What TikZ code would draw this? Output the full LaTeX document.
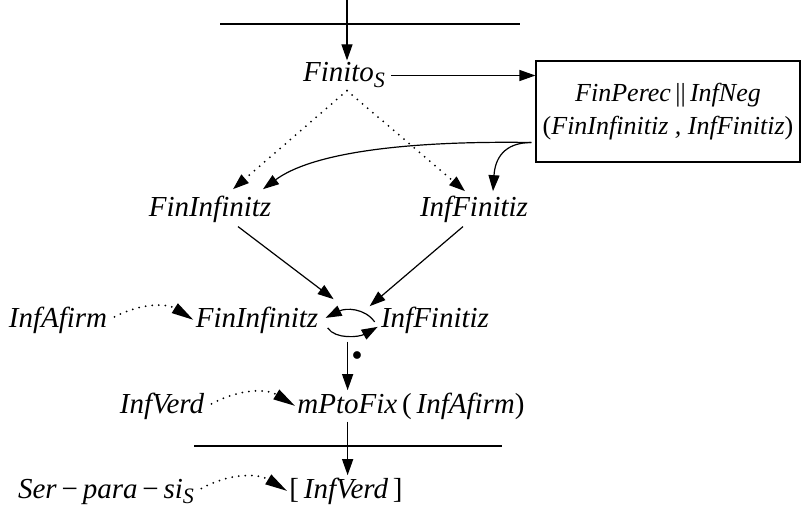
\documentclass[tikz,border=0pt]{standalone}
\usepackage{fontspec}
\setmainfont{Liberation Serif}
\usetikzlibrary{arrows.meta,calc,positioning}
\newcommand{\lowsub}[1]{\raisebox{-0.45ex}{\fontsize{11}{11}\selectfont #1}}
\tikzset{
  term/.style    = {font=\fontsize{14.5}{17}\selectfont\itshape, inner sep=1pt},
  rulebox/.style = {draw, line width=0.6pt, align=center,
                    font=\fontsize{13}{16.5}\selectfont\itshape,
                    minimum width=131pt, minimum height=50.5pt},
  infer/.style   = {line width=0.6pt, -{Triangle[length=8pt,width=5.5pt]}},
  hint/.style    = {line width=1pt, line cap=round, dash pattern=on 0pt off 3.3pt,
                    -{Triangle[length=11pt,width=5.5pt]}},
  dothint/.style = {line width=1pt, line cap=round, dash pattern=on 0pt off 3.4pt,
                    -{Triangle[length=8pt,width=5.5pt]}},
  rulebar/.style = {line width=0.6pt}
}
\begin{document}
\begin{tikzpicture}[x=0.5pt, y=-0.5pt]
  \useasboundingbox (0,0) rectangle (801,508);
  \node[term, anchor=base] (finito) at (344,82) {Finito\lowsub{S}};
  \node[rulebox] (box) at (668,111.5)
    {FinPerec{\upshape\,||\,}InfNeg\\{\upshape(}FinInfinitiz , InfFinitiz{\upshape)}};
  \node[term, anchor=base] (fin1)  at (210,216) {FinInfinitz};
  \node[term, anchor=base] (inf1)  at (474,216) {InfFinitiz};
  \node[term, anchor=base] (afirm) at (58,327)  {InfAfirm};
  \node[term, anchor=base] (fin2)  at (257,327) {FinInfinitz};
  \node[term, anchor=base] (inf2)  at (435,327) {InfFinitiz};
  \node[term, anchor=base] (verd)  at (162,413) {InfVerd};
  \node[term, anchor=base] (fix)   at (411,413) {mPtoFix\,{\upshape(}\,InfAfirm{\upshape)}};
  \node[term, anchor=base] (ser)   at (106,498) {Ser\,{\upshape−}\,para\,{\upshape−}\,si\lowsub{S}};
  \node[term, anchor=base] (goal)  at (346,498) {{\upshape[}\,InfVerd\,{\upshape]}};

  \coordinate (top) at (347,0);
  \draw[rulebar] (220,24) -- (520,24);
  \draw[infer] (top) -- (top |- finito.north);
  \draw[infer] ($(finito.east)+(4,0)$) -- (finito.east -| box.west);
  \draw[dothint] ($(finito.south)+(3,0)$) -- ($(fin1.north)+(23,-4)$);
  \draw[dothint] ($(finito.south)+(3,0)$) -- ($(inf1.north)+(-9,-2)$);
  \draw[infer] ($(box.west)+(-4,31)$) .. controls +(-133,-2) and +(47,-35) .. ($(fin1.north)+(53,-4)$);
  \draw[infer] ($(box.west)+(-4,31)$) .. controls +(-28,0) and +(2,-32) .. ($(inf1.north)+(19,-2)$);

  \draw[infer] ($(fin1.south)+(28,2)$) -- ($(fin2.north east)+(13,-5)$);
  \draw[infer] ($(inf1.south)+(-11,2)$) -- ($(inf2.north west)+(-9,2)$);

  \draw[hint] ($(afirm.east)+(5,-3)$) to[bend left=30] (fin2.west);
  \draw[infer] ($(inf2.west)+(-4,2)$) .. controls +(-10,-14) and +(20,-10) .. ($(fin2.east)+(5,-2)$);
  \draw[infer] ($(fin2.east)+(7,8)$) .. controls +(8,12) and +(-18,10) .. ($(inf2.west)+(-1,7)$);

  \coordinate (mid) at ($(fin2.south east)!0.5!(inf2.south west)+(-2,6)$);
  \draw[infer] (mid) -- (mid |- fix.north)
    node[pos=0.3, right, xshift=0pt, inner sep=2pt] {$\bullet$};

  \draw[hint] ($(verd.east)+(5,-2)$) to[bend left=30] (fix.west);
  \draw[rulebar] (194,446) -- (502,446);
  \draw[infer] (mid |- fix.south) -- (mid |- goal.north);
  \draw[hint] ($(ser.east)+(5,-3)$) to[bend left=30] (goal.west);
\end{tikzpicture}
\end{document}
